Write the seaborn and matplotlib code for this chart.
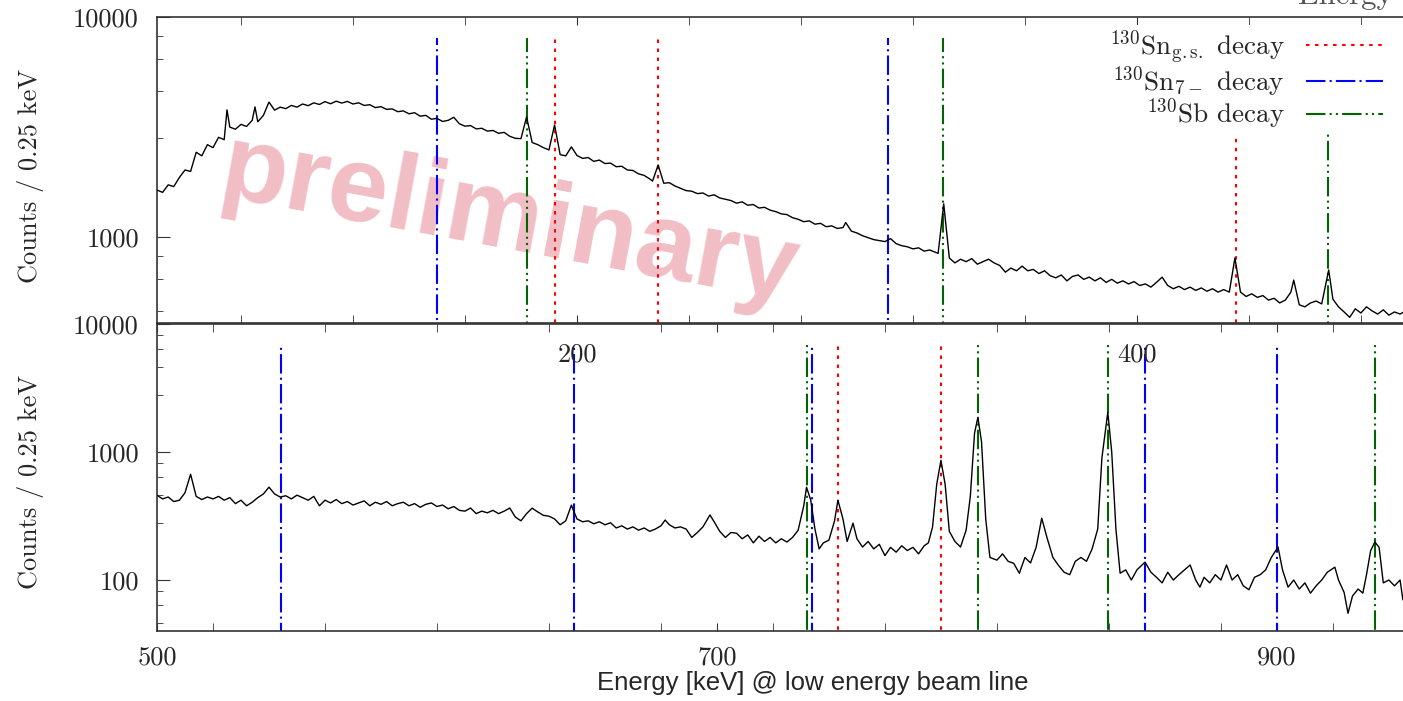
import numpy as np
import pandas as pd
import matplotlib
matplotlib.use('Agg')
import matplotlib.pyplot as plt
import seaborn as sns
from matplotlib.ticker import FixedLocator, FuncFormatter, NullFormatter, MultipleLocator

# spectrum (keV, counts per 0.25 keV)
top_energy = [50, 52, 54, 56, 58, 60, 62, 64, 66, 68,
              70, 72, 74, 75, 76, 78, 80, 82, 84, 85,
              86, 88, 90, 92, 94, 96, 98, 100, 102, 104,
              106, 108, 110, 112, 114, 116, 118, 120, 122, 124,
              126, 128, 130, 132, 134, 136, 138, 140, 142, 144,
              146, 148, 150, 152, 154, 156, 158, 160, 162, 164,
              166, 168, 170, 172, 174, 176, 178, 180, 182, 184,
              186, 188, 190, 192, 194, 196, 198, 200, 202, 204,
              206, 208, 210, 212, 214, 216, 218, 220, 222, 224,
              226, 227, 229, 231, 233, 235, 237, 239, 241, 243,
              245, 247, 249, 251, 253, 255, 257, 259, 261, 263,
              265, 267, 269, 271, 273, 275, 277, 279, 281, 283,
              285, 287, 289, 291, 293, 295, 296, 298, 300, 302,
              304, 306, 308, 310, 312, 314, 316, 318, 320, 322,
              324, 326, 328, 329, 331, 333, 335, 337, 339, 341,
              343, 345, 347, 349, 351, 353, 355, 357, 359, 361,
              363, 365, 367, 369, 371, 373, 375, 377, 379, 381,
              383, 385, 387, 389, 391, 393, 395, 397, 399, 401,
              403, 405, 407, 409, 411, 413, 415, 417, 419, 421,
              423, 425, 427, 429, 431, 433, 435, 437, 439, 441,
              443, 445, 447, 449, 451, 453, 455, 456, 458, 460,
              462, 464, 466, 468.5, 470, 472, 474, 476, 478, 480,
              482, 484, 486, 488, 490, 492, 494, 496, 498, 500]
top_counts = [1630, 1590, 1720, 1690, 1860, 2010, 1980, 2420, 2330, 2620,
              2540, 2830, 2760, 3770, 3150, 3080, 3240, 3170, 3380, 3890,
              3330, 3560, 4090, 3760, 3880, 3820, 3950, 3880, 4010, 3940,
              4060, 3990, 4110, 4020, 4130, 4050, 4120, 4010, 4060, 3950,
              3980, 3860, 3900, 3790, 3810, 3700, 3730, 3620, 3660, 3530,
              3560, 3420, 3450, 3340, 3380, 3490, 3260, 3180, 3200, 3090,
              3110, 3020, 3040, 2950, 2980, 2860, 2800, 2790, 3500, 2680,
              2620, 2540, 2480, 3220, 2360, 2330, 2560, 2340, 2270, 2290,
              2200, 2230, 2150, 2160, 2080, 2090, 2010, 2000, 1930, 1900,
              1830, 1790, 2120, 1750, 1760, 1700, 1660, 1620, 1610, 1570,
              1580, 1530, 1550, 1500, 1480, 1460, 1420, 1440, 1390, 1400,
              1350, 1360, 1320, 1300, 1270, 1260, 1220, 1200, 1170, 1180,
              1140, 1150, 1110, 1120, 1090, 1100, 1160, 1060, 1040, 1010,
              990, 970, 960, 950, 980, 930, 910, 900, 880, 890,
              860, 870, 850, 840, 1410, 800, 760, 790, 770, 795,
              750, 770, 790, 760, 740, 690, 720, 700, 735, 700,
              710, 680, 700, 665, 650, 670, 630, 660, 670, 640,
              655, 630, 650, 620, 640, 615, 630, 610, 625, 600,
              610, 590, 620, 655, 600, 580, 595, 575, 590, 570,
              585, 565, 580, 560, 575, 560, 800, 560, 535, 550,
              530, 540, 515, 525, 500, 515, 560, 635, 490, 480,
              500, 510, 495, 706, 520, 480, 455, 430, 470, 450,
              480, 460, 445, 465, 440, 455, 445, 460, 440, 450]

bottom_energy = [500, 502, 504, 506, 508, 510, 512, 514, 516, 518,
                 520, 522, 524, 526, 528, 530, 532, 534, 536, 538,
                 540, 542, 544, 546, 548, 550, 552, 554, 556, 558,
                 560, 562, 564, 566, 568, 570, 572, 574, 576, 578,
                 580, 582, 584, 586, 588, 590, 592, 594, 596, 598,
                 600, 602, 604, 606, 608, 610, 612, 614, 616, 618,
                 620, 622, 624, 626, 628, 630, 632, 634, 636, 638,
                 640, 642, 644, 646, 648, 650, 652, 654, 656, 658,
                 660, 662, 664, 666, 668, 670, 672, 674, 676, 678,
                 680, 681.5, 683, 685, 687, 689, 691, 693, 695, 697.5,
                 699, 701, 703, 705, 707, 709, 711, 713, 715, 717,
                 719, 721, 723, 725, 727, 729, 731, 732, 733.5, 735,
                 736.5, 738, 740, 742, 743.2, 745, 746.5, 748.6, 750, 752,
                 754, 756, 758, 760, 762, 764, 766, 768, 770, 772,
                 774, 775.5, 777, 778.5, 780, 781.5, 783, 785, 787, 789,
                 790.5, 792, 793.2, 794.5, 796, 797.5, 800, 802, 804, 806,
                 808, 810, 812, 814, 816, 818, 820, 822, 824, 826,
                 828, 830, 832, 834, 836, 837.5, 839.6, 841, 842.5, 844,
                 846, 848, 850, 852.9, 855, 857, 859, 861, 863, 865,
                 867, 869, 871, 872.5, 874, 876, 878, 880, 882, 884,
                 886, 888, 890, 892, 894, 896, 898, 900.4, 902, 904,
                 906, 908, 910, 912, 914, 916, 918, 920.7, 922, 924,
                 925.4, 927, 929, 930.7, 932, 933.5, 935, 936.5, 938, 940,
                 942, 944, 945, 946, 948, 950]
bottom_counts = [459, 430, 445, 410, 420, 480, 670, 450, 425, 445,
                 430, 450, 420, 440, 395, 420, 380, 405, 440, 470,
                 531, 470, 445, 455, 430, 460, 440, 420, 450, 380,
                 420, 400, 425, 395, 410, 385, 400, 415, 380, 405,
                 390, 410, 380, 395, 405, 380, 395, 370, 390, 400,
                 375, 385, 360, 375, 350, 345, 365, 330, 345, 335,
                 350, 330, 345, 365, 310, 290, 330, 364, 340, 320,
                 315, 300, 270, 290, 384, 300, 285, 290, 275, 285,
                 270, 280, 255, 265, 250, 260, 245, 255, 240, 250,
                 265, 294, 270, 255, 260, 250, 215, 235, 260, 322,
                 285, 240, 215, 235, 232, 210, 225, 195, 220, 200,
                 215, 195, 210, 198, 215, 245, 380, 531, 420, 250,
                 175, 195, 205, 290, 420, 300, 200, 278, 210, 181,
                 200, 175, 190, 155, 180, 165, 185, 170, 180, 160,
                 185, 195, 259, 560, 861, 560, 240, 200, 181, 245,
                 450, 1400, 1866, 1200, 300, 150, 143, 160, 140, 135,
                 113, 150, 136, 180, 304, 210, 150, 130, 115, 110,
                 140, 150, 140, 175, 250, 900, 2040, 1000, 250, 113,
                 120, 100, 120, 138, 115, 105, 95, 115, 100, 110,
                 120, 131, 100, 88, 105, 95, 110, 100, 131, 100,
                 110, 90, 84, 105, 110, 120, 150, 181, 120, 88,
                 100, 85, 95, 79, 90, 100, 115, 126, 100, 80,
                 55, 75, 85, 79, 110, 170, 198, 180, 95, 100,
                 90, 100, 70, 85, 80, 90]

# known gamma lines (keV)
sn_gs_lines = [192.1, 228.9, 435.4, 743.2, 780.0]
sn_7m_lines = [150.0, 311.1, 544.3, 648.9, 734.1, 852.9, 900.2]
sb_lines = [182.1, 330.9, 468.3, 732.0, 793.2, 839.8, 935.2]

decays = [
    (r'$^{130}$Sn$_{\mathrm{g.s.}}$ decay', sn_gs_lines, '#ff0000', (0, (2.5, 4))),
    (r'$^{130}$Sn$_{7-}$ decay', sn_7m_lines, '#0000ff', (0, (14, 3, 1.5, 3))),
    (r'$^{130}$Sb decay', sb_lines, '#006400', (0, (14, 3, 1.5, 3, 1.5, 3))),
]

sns.set_style('ticks')
plt.rcParams['font.family'] = ['cmr10', 'DejaVu Serif']
plt.rcParams['mathtext.fontset'] = 'cm'
plt.rcParams['axes.formatter.use_mathtext'] = True
plt.rcParams['lines.scale_dashes'] = False

fig = plt.figure(figsize=(14.03, 7.01), dpi=100)
ax_top = fig.add_axes([0.1119, 0.5388, 0.898, 0.4374])
ax_bot = fig.add_axes([0.1119, 0.0999, 0.898, 0.438])
ax_top.set_zorder(2)
ax_top.patch.set_visible(False)

top_df = pd.DataFrame({'Energy': top_energy, 'Counts': top_counts})
bot_df = pd.DataFrame({'Energy': bottom_energy, 'Counts': bottom_counts})

sns.lineplot(data=top_df, x='Energy', y='Counts', ax=ax_top, color='black', lw=1.0, zorder=3)
sns.lineplot(data=bot_df, x='Energy', y='Counts', ax=ax_bot, color='black', lw=1.0, zorder=3)

handles = []
for ax, ytop in [(ax_top, 8000), (ax_bot, 7000)]:
    for label, lines, col, ls in decays:
        h = ax.vlines(lines, 1, ytop, colors=col, linestyles=ls, lw=1.5, zorder=2, label=label)
        if ax is ax_top:
            handles.append(h)

fmt = FuncFormatter(lambda v, p: f'{v:.0f}')
for ax, lims, majors in [(ax_top, (404, 10000), [1000, 10000]),
                         (ax_bot, (40, 10000), [100, 1000, 10000])]:
    ax.set_yscale('log')
    ax.set_ylim(*lims)
    ax.yaxis.set_major_locator(FixedLocator(majors))
    ax.yaxis.set_major_formatter(fmt)
    ax.yaxis.set_minor_locator(FixedLocator([28, 46, 64, 82, 280, 460, 640, 820,
                                             2800, 4600, 6400, 8200]))
    ax.yaxis.set_minor_formatter(NullFormatter())
    ax.xaxis.set_minor_locator(MultipleLocator(40))
    ax.xaxis.set_minor_formatter(NullFormatter())
    ax.tick_params(which='both', direction='in', top=True, right=True,
                   labelsize=19, color='#333333')
    ax.tick_params(axis='y', which='major', length=9, pad=13)
    ax.tick_params(axis='y', which='minor', length=4.5)
    ax.tick_params(axis='x', which='both', length=6)
    for s in ax.spines.values():
        s.set_color('#333333')
        s.set_linewidth(1.2)
    ax.set_ylabel('Counts / 0.25 keV', fontsize=19)

ax_top.set_xlim(50, 500)
ax_top.xaxis.set_major_locator(FixedLocator([200, 400]))
ax_top.xaxis.set_major_formatter(fmt)
ax_top.tick_params(axis='x', pad=14)
ax_top.set_xlabel('')
ax_top.yaxis.set_label_coords(-0.09, 0.48)

ax_bot.set_xlim(500, 950)
ax_bot.xaxis.set_major_locator(FixedLocator([500, 700, 900]))
ax_bot.xaxis.set_major_formatter(fmt)
ax_bot.tick_params(axis='x', pad=11)
ax_bot.yaxis.set_label_coords(-0.09, 0.485)
ax_bot.set_xlabel('Energy [keV] @ low energy beam line', fontsize=18.5,
                  family='Liberation Sans')
ax_bot.xaxis.set_label_coords(0.5206, -0.13)

ax_top.text(0.28, 0.33, 'preliminary', transform=ax_top.transAxes, fontsize=78,
            family='Liberation Sans', fontweight='bold', color='#f2bec6',
            rotation=-10.5, ha='center', va='center', rotation_mode='anchor', zorder=1)

leg = ax_top.legend(handles=handles, loc='upper right',
                    bbox_to_anchor=(1386 / 1403, 1 - 25 / 701), bbox_transform=fig.transFigure,
                    markerfirst=False, fontsize=19.5, handlelength=2.85, handletextpad=0.8,
                    labelspacing=-0.08, borderpad=0.1, borderaxespad=0,
                    frameon=True, framealpha=1, fancybox=False)
leg.get_frame().set_facecolor('white')
leg.get_frame().set_edgecolor('none')

# axis title of the next panel up, cut by the figure edge as in the source
fig.text(1298 / 1403, 1 - 4 / 701, 'Energy', fontsize=22, color='#555555',
         ha='left', va='baseline')

fig.savefig('out.png', dpi=100)
